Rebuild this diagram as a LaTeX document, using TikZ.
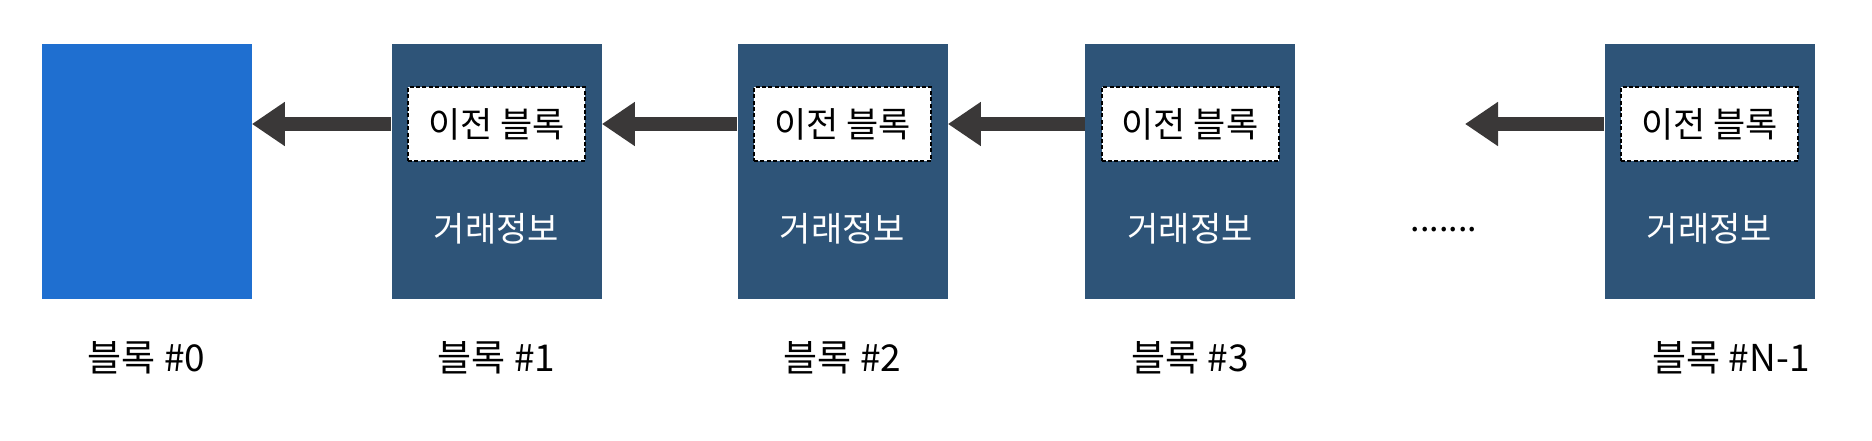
\documentclass[tikz,border=0pt]{standalone}
\usepackage{fontspec}
\setmainfont{Noto Sans CJK KR}
\usetikzlibrary{arrows.meta}
\definecolor{genesisblue}{HTML}{1F6FD0}
\definecolor{blockblue}{HTML}{2E5478}
\definecolor{arrowgray}{HTML}{3A3838}

\tikzset{
  genesisbox/.style={fill=genesisblue, minimum width=105pt, minimum height=127.5pt, inner sep=0pt},
  blockbox/.style={fill=blockblue, minimum width=105pt, minimum height=127.5pt, inner sep=0pt},
  prevbox/.style={fill=white, draw=black, dash pattern=on 2pt off 1.2pt, line width=1pt,
    minimum width=88.5pt, minimum height=37pt, inner sep=0pt, font=\fontsize{17.5}{20}\selectfont},
  infotext/.style={text=white, font=\fontsize{17}{20}\selectfont},
  blocklabel/.style={font=\fontsize{18.5}{21}\selectfont},
  chainarrow/.style={arrowgray, line width=7pt, -{Triangle[length=16.5pt,width=21pt]}}
}

\begin{document}
\begin{tikzpicture}[x=0.5pt,y=0.5pt]

\useasboundingbox (0,0) rectangle (1872,440);

\node[genesisbox] (b0) at (146.5,268.5) {};
\node[blockbox]   (b1) at (496.5,268.5) {};
\node[blockbox]   (b2) at (842.5,268.5) {};
\node[blockbox]   (b3) at (1190,268.5) {};
\node[blockbox]   (bn) at (1709.5,268.5) {};

\node[prevbox] (p1) at (496.5,316) {이전 블록};
\node[prevbox] (p2) at (842.5,316) {이전 블록};
\node[prevbox] (p3) at (1190,316) {이전 블록};
\node[prevbox] (pn) at (1709.5,316) {이전 블록};

\node[infotext] (t1) at (496.5,211) {거래정보};
\node[infotext] (t2) at (842.5,211) {거래정보};
\node[infotext] (t3) at (1190,211) {거래정보};
\node[infotext] (tn) at (1709.5,211) {거래정보};

\node (dots) at (1444,210) {\fontsize{17}{20}\selectfont .......};
\coordinate (gap) at (1465,316);

\draw[chainarrow] (b1.west |- p1) -- (b0.east |- p1);
\draw[chainarrow] (b2.west |- p2) -- (b1.east |- p2);
\draw[chainarrow] (b3.west |- p3) -- (b2.east |- p3);
\draw[chainarrow] (bn.west |- pn) -- (gap);

\node[blocklabel] (l0) at (146.5,82) {블록 \#0};
\node[blocklabel] (l1) at (496.5,82) {블록 \#1};
\node[blocklabel] (l2) at (842.5,82) {블록 \#2};
\node[blocklabel] (l3) at (1190,82) {블록 \#3};
\node[blocklabel] (ln) at (1731,82) {블록 \#N-1};

\end{tikzpicture}
\end{document}
